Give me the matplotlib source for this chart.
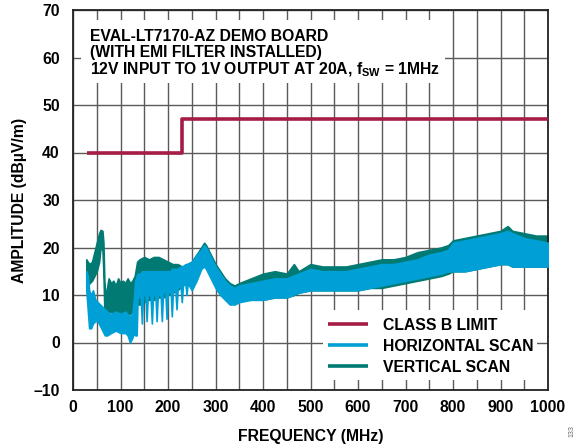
import matplotlib
matplotlib.use("Agg")
import matplotlib.pyplot as plt
from matplotlib.patches import Rectangle

plt.rcParams['font.family'] = ['Liberation Sans', 'DejaVu Sans']
plt.rcParams['font.weight'] = 'bold'
plt.rcParams['mathtext.fontset'] = 'custom'
plt.rcParams['mathtext.rm'] = 'Liberation Sans:bold'
plt.rcParams['mathtext.it'] = 'Liberation Sans:bold'
plt.rcParams['mathtext.bf'] = 'Liberation Sans:bold'

FS = 11.3

# ---------------- data ----------------
limit_freq = [30, 230, 230, 1000]
limit_level = [40, 40, 47, 47]

# Vertical scan envelope (MHz, dBuV/m)
vert_freq = [28, 31, 35, 40, 45, 50, 55, 58, 62, 64, 66, 68, 75, 80, 85, 90, 95, 100, 105,
             110, 115, 120, 125, 130, 135, 140, 150, 160, 170, 180, 190, 200, 210, 220, 230,
             240, 250, 260, 270, 276, 280, 290, 300, 310, 320, 330, 340, 350, 375, 400, 425,
             450, 465, 475, 500, 525, 550, 575, 600, 625, 650, 675, 700, 725, 750, 775, 790,
             800, 825, 850, 875, 900, 915, 925, 950, 975, 1000]
vert_hi = [17.5, 17, 16.5, 17, 19, 21, 23, 23.7, 23.5, 21, 13, 9.5, 13.5, 12.5, 13, 12, 13.5, 12.5, 13,
           12.5, 13.5, 12.5, 13, 14, 17, 17.5, 18, 17.5, 18, 18, 17.5, 17, 16.5, 16.5, 16,
           16.5, 17, 18.5, 20, 21, 20.5, 18.5, 16.5, 15, 13.5, 12.5, 12, 12.5, 13.5, 14.5, 15,
           14.5, 16.5, 15, 16.5, 16, 16, 16, 16.5, 17, 17.5, 17.5, 18, 19, 19.5, 20, 20.5,
           21.5, 22, 22.5, 23, 23.5, 24.5, 23.5, 23, 22.5, 22.5]
vert_lo = [12, 12, 12.5, 13, 14, 15, 17, 20, 19.5, 15, 7, 6.5, 6.5, 6.5, 6, 6.5, 6.5, 6, 6.5,
           6.5, 6, 6, 6.5, 7, 8, 8, 8.5, 9, 9, 9.5, 9.5, 10, 10.5, 11, 12,
           12.5, 12, 14, 16, 16.5, 16, 14, 12, 10.5, 9.5, 8.5, 8.5, 9, 9, 9, 9.5,
           9.5, 10, 10.5, 11, 11, 11, 11, 11, 11.5, 11.5, 12, 12.5, 13, 13.5, 14, 14.5,
           15, 15, 15.5, 16, 16.5, 16.5, 16, 16, 16, 16]

# Horizontal scan envelope (MHz, dBuV/m)
horiz_freq = [28, 31, 34, 38, 42, 47, 52, 57, 62, 67, 72, 80, 90, 100, 110, 115, 120, 125, 128,
              131, 134, 136, 138, 142.5, 145, 147.5, 152.5, 155, 157.5, 163, 166, 168.5, 173.5,
              176, 178.5, 184.5, 187, 189.5, 194.5, 197, 199.5, 205.5, 208, 210.5, 215.5, 218,
              220.5, 226.5, 229, 231.5, 236.5, 239, 241.5, 250, 260, 270, 276, 280, 290, 300,
              310, 320, 330, 340, 350, 375, 400, 425, 450, 475, 500, 525, 550, 575, 600, 625,
              650, 675, 700, 725, 750, 775, 790, 800, 825, 850, 875, 900, 915, 925, 950, 975, 1000]
horiz_hi = [15, 14, 11, 10, 11, 9, 8.5, 8, 7.5, 7, 6.5, 6, 6.5, 6, 6.5, 6, 5.5, 6, 9,
            13, 14, 14.5, 14.5, 14.5, 15, 15, 15, 15, 15, 15, 15, 15, 15,
            15, 15, 15, 15, 15, 15, 15, 15, 15, 15.5, 15.5, 15.5, 15.5,
            15.5, 16, 16, 16, 16.5, 16.5, 16.5, 17, 18.5, 19.5, 20.5, 20, 18, 16,
            14.5, 13, 12, 11.5, 12, 12.5, 13, 13.5, 13.5, 14.5, 15.5, 15, 15, 15, 15.5, 16,
            16.5, 16.5, 17, 17.5, 18.5, 19, 19.5, 21, 21.5, 22, 22.5, 23, 23.5, 23, 22, 21.5, 21]
horiz_lo = [11, 7, 3, 3, 4, 4.5, 4.5, 3.5, 2.5, 1.5, 1.5, 2, 2.5, 2, 2, 1.5, 0, 1, 2,
            1.5, 1.5, 9.5, 9.5, 9.5, 4, 10, 10, 4.5, 10, 10, 4, 10, 10,
            4.5, 10, 10, 4.5, 10.5, 10.5, 5, 10.5, 11, 5.5, 11, 11, 7,
            11.5, 12, 8.5, 12, 12.5, 10, 12.5, 11, 13, 15.5, 16, 15.5, 13.5, 11.5,
            10, 9, 8, 8, 8.5, 9, 9, 9.5, 9.5, 10.5, 11, 11, 11, 11, 11, 11.5,
            12, 12.5, 13, 13.5, 14, 14.5, 15, 15, 15, 15.5, 16, 16.5, 16.5, 16, 16, 16, 16]

x_ticks = [0, 100, 200, 300, 400, 500, 600, 700, 800, 900, 1000]
y_ticks = [-10, 0, 10, 20, 30, 40, 50, 60, 70]
y_ticklabels = ['–10', '0', '10', '20', '30', '40', '50', '60', '70']

legend_labels = ['CLASS B LIMIT', 'HORIZONTAL SCAN', 'VERTICAL SCAN']

RED = '#A51C45'
BLUE = '#00A0D6'
TEAL = '#007A72'

# ---------------- figure ----------------
fig = plt.figure(figsize=(5.81, 4.46), dpi=100)
ax = fig.add_axes([73 / 581, 56 / 446, 475 / 581, 380 / 446])

ax.set_xlim(0, 1000)
ax.set_ylim(-10, 70)
ax.set_xticks(x_ticks)
ax.set_xticks(range(50, 1000, 100), minor=True)
ax.set_yticks(y_ticks)
ax.set_yticklabels(y_ticklabels)
ax.tick_params(axis='both', which='both', length=0, labelsize=FS)
ax.tick_params(axis='x', pad=7.5)
ax.tick_params(axis='y', pad=9.5)
for lab in ax.get_xticklabels() + ax.get_yticklabels():
    lab.set_fontweight('bold')
ax.grid(True, which='both', color='#5a5a5a', lw=1.0, zorder=0)
ax.set_axisbelow(True)
for sp in ax.spines.values():
    sp.set_color('#222222')
    sp.set_linewidth(1.3)

# data
ax.fill_between(vert_freq, vert_lo, vert_hi, color=TEAL, lw=1.2, edgecolor=TEAL, zorder=2)
ax.fill_between(horiz_freq, horiz_lo, horiz_hi, color=BLUE, lw=1.2, edgecolor=BLUE, zorder=3)
ax.plot(limit_freq, limit_level, color=RED, lw=2.6, zorder=4, solid_capstyle='butt')

# title box
ax.add_patch(Rectangle(((81 - 73) / 475, (390 - 83) / 380), (445 - 81) / 475, 63 / 380,
                       transform=ax.transAxes, facecolor='white', edgecolor='none', zorder=1.5))
tx = (90 - 73) / 475
ax.text(tx, (390 - 40.7) / 380, 'EVAL-LT7170-AZ DEMO BOARD', transform=ax.transAxes,
        fontsize=FS, fontweight='bold', va='baseline', ha='left', zorder=6)
ax.text(tx, (390 - 57.5) / 380, '(WITH EMI FILTER INSTALLED)', transform=ax.transAxes,
        fontsize=FS, fontweight='bold', va='baseline', ha='left', zorder=6)
ax.text(tx, (390 - 74.5) / 380, r'12V INPUT TO 1V OUTPUT AT 20A, $\mathrm{f}_{\mathrm{SW}}$ = 1MHz',
        transform=ax.transAxes, fontsize=FS, fontweight='bold', va='baseline', ha='left', zorder=6)

# legend (manual)
ax.add_patch(Rectangle(((323 - 73) / 475, (390 - 380) / 380), (537 - 323) / 475, 70 / 380,
                       transform=ax.transAxes, facecolor='white', edgecolor='none', zorder=5))
rows_py = [324, 345, 366]
colors = [RED, BLUE, TEAL]
for py, c, lab in zip(rows_py, colors, legend_labels):
    yy = (390 - py) / 380
    ax.plot([(328 - 73) / 475, (368 - 73) / 475], [yy, yy], transform=ax.transAxes,
            color=c, lw=2.6, zorder=6, solid_capstyle='butt')
    ax.text((383 - 73) / 475, yy, lab, transform=ax.transAxes, fontsize=FS,
            fontweight='bold', va='center_baseline', ha='left', zorder=6)

ax.set_xlabel('FREQUENCY (MHz)', fontsize=FS, fontweight='bold')
ax.xaxis.set_label_coords(0.5, (390 - 428.5) / 380)
ax.set_ylabel('AMPLITUDE (dBµV/m)', fontsize=FS, fontweight='bold')
ax.yaxis.set_label_coords((27.5 - 73) / 475, 0.5)

fig.text(572 / 581, 1 - 431 / 446, '133', rotation=90, fontsize=5, color='#666666',
         ha='center', va='center', fontweight='normal')

fig.savefig('out.png', dpi=100)
